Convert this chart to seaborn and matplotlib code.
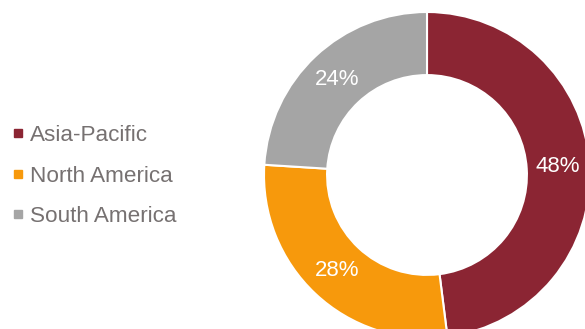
import matplotlib
matplotlib.use("Agg")
import matplotlib.pyplot as plt
import seaborn as sns
from matplotlib.lines import Line2D

regions = ["Asia-Pacific", "North America", "South America"]
shares = [48, 28, 24]
colors = ["#8B2533", "#F7990C", "#A5A5A5"]

sns.set_theme(style="white")
plt.rcParams['font.family'] = ['Liberation Sans', 'DejaVu Sans']

W, H = 585, 329
fig = plt.figure(figsize=(W / 100, H / 100), dpi=100)
cx, cy, R = 427, 175, 163
ax = fig.add_axes([(cx - R) / W, (H - cy - R) / H, 2 * R / W, 2 * R / H])
pal = sns.color_palette(colors)
wedges, texts, autotexts = ax.pie(
    shares, colors=pal, startangle=90, counterclock=False, radius=1,
    autopct=lambda p: f"{p:.0f}%", pctdistance=0.805,
    wedgeprops=dict(width=0.387, edgecolor="white", linewidth=1.5),
    textprops=dict(color="white", fontsize=16))
ax.set_xlim(-1, 1)
ax.set_ylim(-1, 1)
ax.set_aspect("equal")
ax.axis("off")

handles = [Line2D([], [], marker="s", linestyle="none", markersize=6,
                  markerfacecolor=c, markeredgecolor=c) for c in colors]
leg = fig.legend(handles, regions, loc="center left",
                 bbox_to_anchor=(0.0, (H - 176) / H), frameon=False,
                 fontsize=16.2, labelcolor="#767171", handlelength=0.6,
                 handletextpad=0.25, labelspacing=0.88, borderaxespad=0,
                 borderpad=0.5)

fig.savefig("out.png", dpi=100)
